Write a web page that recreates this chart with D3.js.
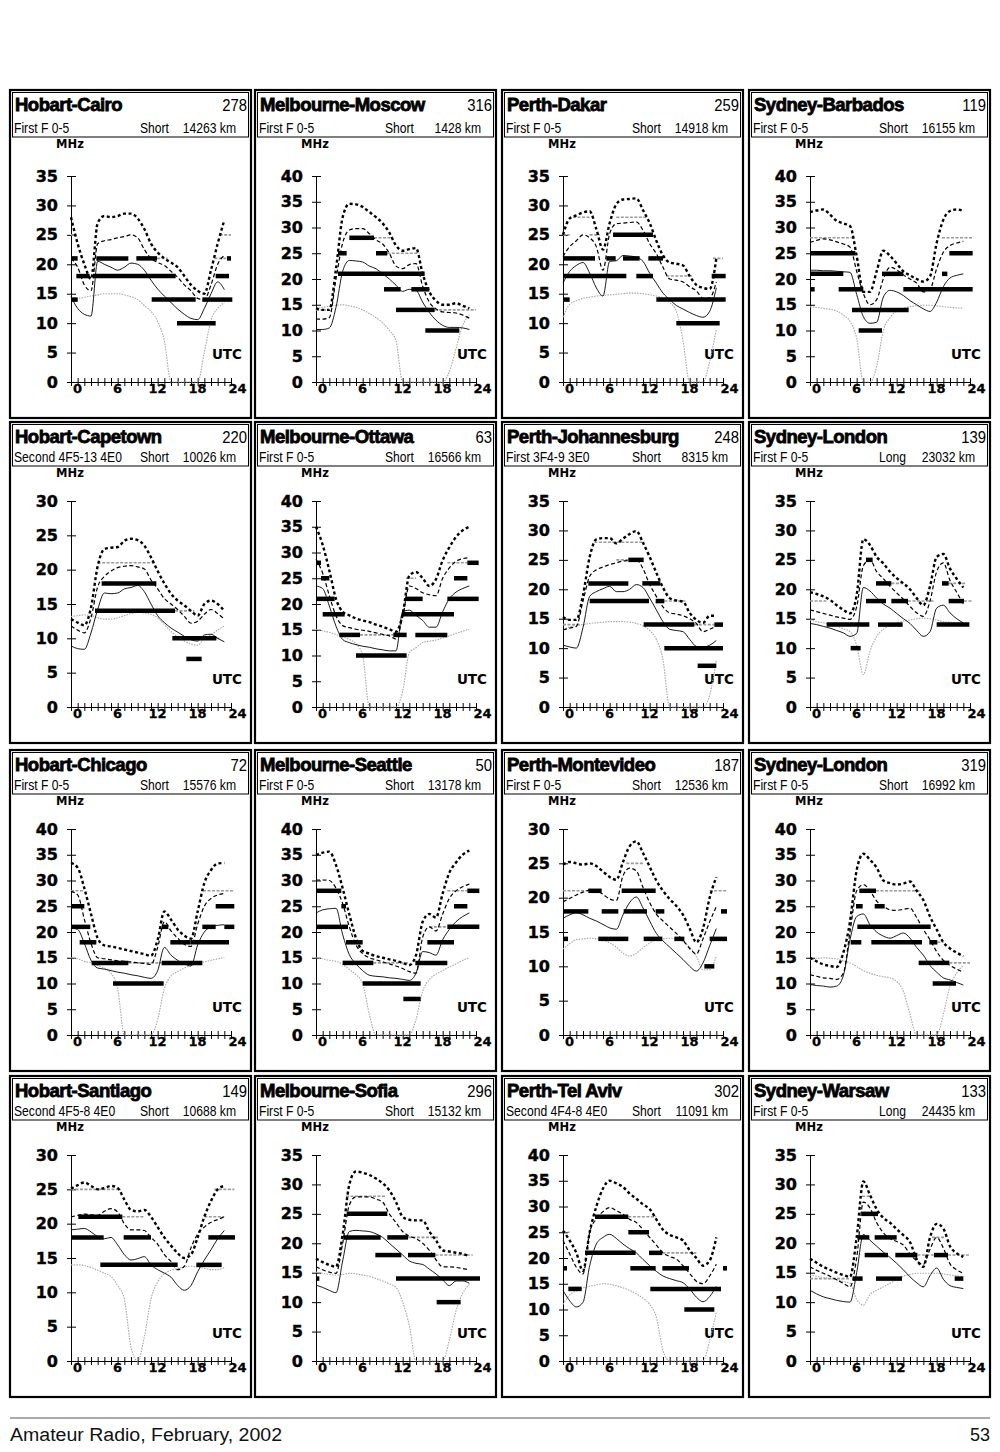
<!DOCTYPE html>
<html><head><meta charset="utf-8">
<script src="https://cdn.jsdelivr.net/npm/d3@7"></script>
<style>body{margin:0;background:#fff}svg{display:block}</style>
</head><body>
<svg id="c" width="1000" height="1452"></svg>
<script>
// ---------- DATA ----------
const titles = ["Hobart-Cairo","Melbourne-Moscow","Perth-Dakar","Sydney-Barbados",
  "Hobart-Capetown","Melbourne-Ottawa","Perth-Johannesburg","Sydney-London",
  "Hobart-Chicago","Melbourne-Seattle","Perth-Montevideo","Sydney-London",
  "Hobart-Santiago","Melbourne-Sofia","Perth-Tel Aviv","Sydney-Warsaw"];
const pathNumbers = ["278","316","259","119","220","63","248","139","72","50","187","319","149","296","302","133"];
const modes = ["First F 0-5","First F 0-5","First F 0-5","First F 0-5",
  "Second 4F5-13 4E0","First F 0-5","First 3F4-9 3E0","First F 0-5",
  "First F 0-5","First F 0-5","First F 0-5","First F 0-5",
  "Second 4F5-8 4E0","First F 0-5","Second 4F4-8 4E0","First F 0-5"];
const pathTypes = ["Short","Short","Short","Short","Short","Short","Short","Long",
  "Short","Short","Short","Short","Short","Short","Short","Long"];
const distances = ["14263 km","1428 km","14918 km","16155 km","10026 km","16566 km","8315 km","23032 km",
  "15576 km","13178 km","12536 km","16992 km","10688 km","15132 km","11091 km","24435 km"];
const yMax = [35,40,35,40,30,40,35,35,40,40,30,40,30,35,40,35];
const hours = [0,1,2,3,4,5,6,7,8,9,10,11,12,13,14,15,16,17,18,19,20,21,22,23];
const utcTicks = [0,1,2,3,4,5,6,7,8,9,10,11,12,13,14,15,16,17,18,19,20,21,22,23,24];
const utcLabels = [0,6,12,18,24];

// upper decile MUF (bold dotted)
const upperMUF = [
 [28,23.5,20,17.5,27,28.2,28,28.2,28.6,28.6,27.8,26,23.5,22,21,20.3,19.5,18,16.5,15.5,15,19,23.5,27.5],
 [14.3,14,14,22,32,34.6,34.5,34,33,32,30.8,29,26.5,25.5,25.8,26,21,17.5,15.8,15,15,15.3,14.8,14.3],
 [25,27.8,28.3,28.8,29,26,22.5,27,30.2,31,31.1,31.2,29.2,27,24,21.5,20.3,20.1,19.8,18,16.5,16,15.8,21],
 [33,33.3,33.5,32.5,31.3,30.8,30.3,24.5,17.5,17.5,21.5,25.5,24.5,23,21.5,20.7,20,19.5,20.5,27,31.5,33.2,33.5,33.2],
 [12.8,12.3,11.9,14.5,20.5,23,23.2,23.3,24.2,24.5,24.3,23.5,21.8,19.8,18,16.5,15.5,14.8,14,13.3,15,15.5,15,14],
 [35,31.5,26.5,21,18.5,17.8,17.2,16.8,16.5,16,15.6,15.1,14.6,18,25.5,26.2,25,23.5,24.8,28.5,31,33,34.3,35],
 [15.3,14.8,14.8,19,25.5,28.5,28.7,28.7,27.8,28.6,29.4,29.9,27.9,25.5,22.8,20.3,18.5,18.1,17.9,16,14.8,14.3,15.5,15.5],
 [19.5,19.2,18.8,18.2,17.3,16.5,15.9,19,28.5,27.5,25.5,24.4,23,21.9,21,20,18.5,17.3,20.5,25.5,26,23.5,21.8,20.3],
 [33.4,32.5,28.5,23.5,18.8,17.4,17.2,16.9,16.6,16.3,16,15.7,15.4,18.5,24,22.4,20.5,19.3,18.7,24,29.5,32,33.3,33.4],
 [35,35.4,35.6,33,28.5,23.4,18.8,16.3,15.8,15.3,15,14.7,14.4,14,13.6,15.5,22,23.5,22.8,27.5,31.5,33.5,35,35.8],
 [24.8,25.2,25,24.8,25,24.6,23.8,23,22.6,25.2,27.5,28.2,26.5,24.5,22.5,21,19.8,18.8,17.5,15.5,13.5,15.5,20,23],
 [15,14.3,13.7,13.4,13.2,16,22,32,35.2,34,32.5,30,29.5,29.2,29.4,29.8,28,26.2,23,20.5,18,16.8,16,15.3],
 [25.1,25.6,26,25.5,25,25.2,25.5,25.2,23.5,22,21.8,22,21,19.5,18,16.8,15.7,15,15.5,18,21,23.3,25,25.5],
 [17.4,16.8,16.3,16,21.5,30,32.2,32,31.6,31,30.2,29,27,24.5,24,23.9,23.9,22,20.5,18.8,18.6,18.4,18.2,17.8],
 [25.3,23.4,21,17.5,25,30,33.5,35,34.5,33.8,32.5,31.5,30.4,29.5,27.5,25.5,24.5,24,23.4,21.5,20,18.5,19.5,24],
 [17.4,16.7,16,15.5,15,14.6,14.3,21,30.5,28.2,25.8,24.3,23.5,22.4,21.4,20.2,17.3,16,21,23.3,22.5,19.5,18.3,17.7]
];
// dashed curve
const dashedMUF = [
 [21,19.5,16.5,15.5,23.5,24,24.2,24.5,24.7,25,24.5,22.5,21,20.3,19.8,18.8,17.8,16.5,15.5,14.2,14,16.5,20,21.5],
 [12.2,12.2,12.5,20,27,29.5,29.8,29.8,28.8,27.6,26.8,25,22.5,22,22.8,23,18.6,15.5,14.2,13.6,13.5,13.4,13,12.4],
 [21.3,23,24,25,24.5,23,19,25.2,26.9,27,27.1,27.2,25.8,23.5,21.8,19.5,17.5,17.3,17,16.2,15.5,14.2,14.3,17],
 [27.1,27.5,27.8,27.6,27.2,26.8,26.2,21.5,17.2,15,16,20,22.3,21.8,20.8,20,19.2,17.5,18,22,25.2,26.5,27,27.3],
 [11.8,11.2,10.8,13,17.5,19,19.8,20.3,20.5,20.6,20.4,20.1,18.5,17.2,15.8,15,14.2,13.2,12.2,12.5,13.5,14.2,13.6,12.8],
 [28.7,26,21.6,17.7,15.8,15.4,15.1,14.9,14.7,14.4,14.1,13.8,13.2,17.5,23.5,23,22.2,21.8,21.6,25,27,28.3,28.8,29],
 [13.1,13.4,13.7,18,22.2,23.3,23.8,24.2,24.5,24.8,24.9,25,23.5,20.8,18.8,17,16,15.8,15.5,15,14.2,12.8,13.2,13.8],
 [16.5,16.2,15.9,15.6,15.3,15.1,14.9,17,24,25,23,21.8,20.5,19.4,18.3,17.1,16,15.4,18,23,24.5,21.5,19.5,17.5],
 [27.9,27.2,22.5,17.8,15,14.8,14.6,14.4,14.3,14.2,14,13.9,13.7,17,22,20.2,18.8,17.6,17.2,21.5,25,26.5,27.2,27.5],
 [30.1,30.1,30,28.5,25.5,21,17.5,15.8,15,14.6,14.2,13.8,13.4,12.9,12.3,12,19,21,20.2,23.5,26.5,28,28.8,29.3],
 [19.4,19.9,20.4,20.8,21.1,21,20.5,19.8,19.6,23.2,24.3,23.9,21.5,19.3,17.6,16.6,15.7,14.8,13.8,12.6,11.8,14,16.5,18.7],
 [11.7,11.4,11.1,11,10.8,12,20,28,29.2,28,26,25,24.3,24.2,24.4,24.6,22.8,20.5,18.5,16.2,14.5,13.5,12.8,12.2],
 [21,21.2,21.4,21.3,21.2,21.8,22.2,21.7,20,19.1,19.1,19,18,17,15.5,14.5,13.3,13.8,16.5,18.5,19.5,20.2,20.6,21],
 [16,15.5,15.1,14.9,20,26.5,27.9,27.9,27.9,27.5,27,25,23.5,22,21.2,20.8,20,18.8,17.2,16,16,15.9,15.7,15.5],
 [23.4,20.8,18.2,16.9,25,27.6,29,29.8,29.2,28.5,27.5,26.9,25.5,24,22.5,21,20.3,19.8,18.5,17,15.5,15,16.5,18.8],
 [16,15.4,14.9,14.4,13.8,13.2,12.6,17.5,27,26,23.5,21.8,20.8,20.3,19.7,18.2,17,16.4,19,21,19.2,16.5,15.5,14.9]
];
// median MUF (thin solid)
const medianMUF = [
 [14.5,12.5,11.5,11.2,20.5,20,19.5,19,19.5,20.2,20,19,17.3,15.8,14.6,13.5,12.4,11.5,10.8,10.6,12.5,15,17,15.7],
 [10.2,10.2,10.5,14.5,21.5,23.6,23.5,23.3,22.5,22,21,20,18.8,17.6,18,17.8,15.5,13.5,12,11,10.6,10.6,10.5,10.2],
 [16.8,18.8,19.8,20.3,18.5,16,14.6,20.5,20.6,21.5,21.4,21.2,20.5,18.5,16.8,15.1,14,13,12.4,11.8,11.3,11,12,16],
 [21.7,21.7,21.6,21.6,21.5,21.4,21.3,17,12.7,11.4,11.6,16.5,17.8,17.5,16.8,15.8,15,14.2,13.7,15.5,18.5,20.2,20.7,21],
 [8.9,8.5,8.4,10.8,14.2,16.6,16.5,16.6,17.2,17.4,17.7,16.8,15,13.3,12.3,11.5,10.9,10.3,9.8,9.6,10.5,10.6,10,9.5],
 [23.5,23,19.6,15.7,13.1,12.5,12.1,11.8,11.6,11.3,11.1,10.9,10.9,18.5,18.8,17.8,16.8,15.5,15.5,18.5,21,22.3,23,23.5],
 [10.5,10.2,10,13.5,18.8,19.6,20.1,20.5,19.6,19.6,20,20.8,20.3,18.5,16.5,14.5,13.2,13,12.8,11.5,10.3,10.2,10.5,11.3],
 [14.2,14,13.7,13.4,13,12.6,12,12.5,20.3,19.7,18.5,17.5,16.8,15.9,15,14.2,13,12,12.8,16.8,17.3,16,15,14.3],
 [20.8,20.5,17.8,14.5,13,12.8,12.5,12.2,12,11.7,11.5,11.2,11,12.5,17,15.5,14.5,13.8,13.4,17.5,20,21,21.3,21.4],
 [23.7,24.3,24.5,24.6,19.5,15.6,13.8,12.5,11.6,11.4,11.3,11.1,11,10.8,10.6,12,16.2,16,15.5,18.5,20.5,22,23,23.7],
 [17,17.5,17.8,17.5,17,16.6,16.1,15.6,15.4,17.5,19.3,20.1,18.5,16.6,14.8,13.7,12.8,11.9,11,10,9.3,10.5,13,15.5],
 [9.8,9.6,9.5,9.3,9.5,11.5,18.5,23,23.5,21.4,20,19.2,18.8,19.3,19.8,18.8,17,15.5,13.5,12.2,11.1,10.7,10.2,9.7],
 [19.1,19.2,19.3,18.8,18.1,17.8,18,16.9,15.5,14.7,14.9,15.2,14,13.3,12.8,12.2,11,10.3,11,13,14.7,16.2,17.8,19],
 [12.9,12.5,12,11.6,17,22,22.2,22.1,22,21.6,21,20,19,18,17,16.6,16.4,15.6,14.8,13.8,12.8,13.6,13.6,13.2],
 [13.7,11.7,10.5,11.4,18.5,22.7,24,24.6,23.8,22.7,21.8,21,19.7,18.5,17.4,16.5,16,15.6,15.2,14,12.4,11.5,12.5,14.5],
 [12,11.4,10.9,10.6,10.3,10.1,10,15,21.5,20.5,19.5,18.5,17.6,16.6,15.5,14.3,13.3,12.6,14.5,15.8,13.9,12.8,12.5,12.3]
];
// lower curve (grey dotted)
const lowerCurve = [
 [14,14.2,14.4,14.6,14.8,15,15,15,14.8,14.5,14,13,12,10.3,7,0,0,0,0,0,5,10.5,12.5,13.5],
 [14.3,14.5,14.7,14.9,15,14.8,14.5,14,13.3,12.5,11.5,10,8,0,0,0,0,0,0,0,2,6.5,11,13],
 [11,13.2,13.8,14.2,14.4,14.6,14.7,14.8,14.9,15,15.1,15.1,15,14.8,14.6,14.3,13.5,12,7,0,0,0,3.5,9],
 [14.6,14.5,14.3,14.1,13.8,13,11.8,8.5,0,0,3,10,12.5,13.8,14.3,14.6,14.8,14.9,14.9,14.8,14.6,14.5,14.4,14.3],
 [13.2,13.3,13.4,13.3,13,12.8,12.8,13,13.3,13.6,13.8,13.7,13.5,13,12,11,10.2,9.6,9.2,9,10,10.5,11.2,11.8],
 [15.1,14.8,14.5,14.1,13.6,13.1,12.3,10,0,0,0,0,0,3,10.5,11.5,12.5,12.8,13,13.4,13.8,14.3,14.7,15.1],
 [13.1,13.6,13.9,14,14.2,14.3,14.4,14.5,14.5,14.5,14.4,14.2,13.8,13,11.5,8,0,0,0,0,0,0,2,8],
 [14.8,14.5,14.3,14,13.7,13.3,12.8,10.5,5.5,9.5,12,13.2,13.8,14.3,14.6,14.8,15,15.1,15,14.8,14.5,14.4,14.3,14.2],
 [15,14.8,14.3,14,13.5,13,12,9,0,0,0,0,0,3,9,11.5,12.3,13,13.5,13.8,14.2,14.5,14.8,15],
 [15,14.8,14.5,14.3,13.7,12.7,11.7,10,4,0,0,0,0,0,0,3,8.5,10.8,11.8,12.5,13.2,13.8,14.5,15],
 [12.5,13.3,13.9,14,14.1,14,13.8,13.4,12.8,11.9,11.5,11.9,12.7,13.4,13.9,14,14.1,14,13.6,12.8,11.5,9.5,9.5,11.5],
 [14.6,14.8,15,14.9,14.8,14.4,14,13.3,12.5,12,11.6,11.3,11.1,10.4,8.5,4,0,0,0,0,4,9.5,12,13.5],
 [14,14,13.9,13.6,13.2,12.8,12.3,11,9,2,0,3.5,9,11.5,12.7,13.2,13.5,13.7,13.8,13.7,13.5,13.3,13.3,13.6],
 [15.1,14.9,14.7,14.6,14.7,14.9,14.8,14.6,14.4,14,13.6,13.1,12.5,10,6,0,0,0,0,0,3.5,8.5,11.5,13],
 [11,12.8,13.6,14.2,14.5,14.8,15,14.9,14.6,14.2,13.7,13,12.2,11,8.5,2,0,0,0,0,0,0,4,9.5],
 [14.6,14.4,14.2,14,13.8,13.5,13.2,10.5,9.5,11.3,12,12.6,13.2,13.8,14.4,14.7,14.9,14.9,14.9,14.9,14.8,14.6,14.5,14.3]
];
// strong band openings: [MHz, from UTC, to UTC]
const bandBars = [
 [[21,0,1],[21,3.8,8.6],[21,9.8,12.9],[21,23.4,24],[18,0.8,2.8],[18,3.3,15.7],[18,21.7,23.7],[14,0,1],[14,12.1,18.7],[14,19.7,24.2],[10,15.9,21.7]],
 [[28,5,8.7],[25,3.3,4.6],[25,9,10.7],[21,3.3,16.3],[18,10.2,12.7],[18,14.3,17],[14,12,15],[14,15,17.8],[10,16.4,21.5]],
 [[14,0,1],[18,0,9.5],[18,11,13.5],[18,22.3,24.4],[21,0,4.8],[21,6.5,7.9],[21,9,11.5],[21,12.8,15],[25,7.5,13.5],[14,14,24.4],[10,17,23.5]],
 [[25,0,6.8],[21,0,5],[18,0,0.7],[18,4.3,8],[14,6.3,14.8],[10,7.3,10.8],[21,10.8,14],[18,14,24.4],[21,19.8,20.6],[25,20.9,24.4]],
 [[18,4.6,12.8],[14,3.6,15.6],[10,15.2,21.8],[7,17.3,19.6]],
 [[28,0,0.75],[25,0.75,2],[21,0,2.8],[18,1,4.3],[14,3.5,6.6],[10,6,13.6],[14,11.6,13.6],[21,13.4,16],[18,12.9,20.7],[14,14.9,19.7],[21,19.7,24.4],[25,20.7,22.7],[28,22.7,24.4]],
 [[21,3.8,9.8],[21,11.9,14.6],[25,9.8,12.1],[18,4,12.9],[18,13.9,15.2],[14,12.1,19.7],[14,22.7,24],[10,15.2,24],[7,20.2,23]],
 [[14,2.5,8.9],[14,10.2,13.9],[14,19,23.9],[10,6.1,7.6],[18,8.4,11.4],[18,12.2,14.7],[18,20.8,23.1],[21,9.9,12.2],[21,19.8,20.8],[25,8.4,9.4]],
 [[25,0,2],[21,0,2.9],[18,1.3,3.8],[14,3.1,8.6],[14,13.6,19.7],[10,6.3,13.9],[21,13.6,14.6],[18,14.9,17.9],[18,17.9,23.7],[21,19.7,21.7],[21,23,24.5],[25,21.7,24.5]],
 [[28,0,3.8],[25,3.8,4.5],[21,0,4.8],[18,4.5,7],[14,4,8.6],[10,7,15.7],[7,13.1,15.7],[14,14.9,19.7],[18,16.7,20.7],[21,19.7,24.5],[25,20.7,22.7],[28,22.7,24.5]],
 [[21,3.8,5.8],[21,8.8,13.9],[18,0,3.8],[18,5.8,8.3],[18,9.1,12.6],[18,13.9,15.2],[18,23.7,24.6],[14,0,0.75],[14,5.3,9.8],[14,12.1,14.9],[14,16.7,18.2],[14,22,24.6],[10,21.2,22.7]],
 [[28,7.4,9.9],[25,6.9,7.9],[25,9.7,11.2],[21,7.1,18.1],[18,6.1,7.7],[18,9.2,16.8],[18,17.9,19.1],[14,16.3,20.9],[10,18.4,21.9]],
 [[21,1.1,7.7],[18,0,4.9],[18,7.9,12],[18,20.6,24.6],[14,4.4,16],[14,18.8,22.6]],
 [[25,4.6,10.7],[21,4.1,9.7],[21,10.7,13.8],[18,8.9,12.8],[18,13.8,17.9],[14,12,24.6],[10,18.1,21.7],[14,0,0.5]],
 [[14,0.8,2.8],[18,0,0.6],[21,3.3,10.9],[21,12.9,14.9],[28,4.8,9.8],[25,9.8,12.9],[18,10.1,13.9],[18,14.9,18.9],[18,24,24.6],[14,13.1,23.7],[10,18.2,22.7]],
 [[25,7.7,10.2],[21,7.1,8.9],[21,9.7,13],[18,8.2,11.7],[18,12.8,16.1],[18,18.6,20.7],[14,6.4,7.9],[14,9.9,13.8],[14,21.7,23]]
];
// weak band openings (thin grey)
const weakBars = [
 [[25,0,0.8],[25,22.3,24],[21,12.9,14.5],[21,21.5,23.4]],
 [[28,8.7,11.5],[25,10.7,15.5],[14,17.8,24],[14,0,1.5]],
 [[28,1.5,4],[28,8,12.5],[25,0,1],[25,4,5.5],[18,15.5,19.5],[21,22.5,24]],
 [[28,0,6.6],[28,19.8,24.4]],
 [[21,4,12.6],[14,15.6,18.5],[10,21.8,22.5]],
 [[14,6.6,11.6],[28,19.7,22.7],[25,13.5,15]],
 [[28,4.7,12.2],[25,8,9.8],[18,15.2,18.5],[14,0,2.5],[14,19.7,22.7]],
 [[18,0,2.5],[21,12.2,14],[21,20.8,23.5],[18,23.1,24.4],[18,14.7,18.6]],
 [[28,0,2],[28,19.8,24.5],[14,8.6,13.6]],
 [[14,8.6,14],[21,17,19.7],[28,19.7,22.7]],
 [[21,0,3.8],[21,22,24.5],[25,9.5,12]],
 [[28,9.9,16.5],[14,20.9,24],[18,19.1,20]],
 [[25,0,7.5],[25,21.5,24.5],[21,7.7,11],[21,20,23]],
 [[28,4.5,10.5],[21,13.8,18.5],[18,17.9,23.5]],
 [[28,9.8,14],[21,14.9,20],[25,0,1]],
 [[18,16.1,18.6],[18,20.7,24],[14,0,6],[21,18.3,20.3],[28,7.8,9]]
];
const footerLeft = "Amateur Radio, February, 2002";
const footerRight = "53";

// ---------- LAYOUT ----------
const colLeft = [10, 255, 502, 749];
const rowTop = [90, 422, 750, 1076];
const rowH = [328, 321, 321, 321];
const PW = 241;
const BOLD = "'DejaVu Sans', Verdana, sans-serif";
const SANS = "'Liberation Sans', Arial, sans-serif";

const svg = d3.select("#c");
svg.append("rect").attr("width",1000).attr("height",1452).attr("fill","#fff");

function narrowText(g, x, y, txt, anchor) {
  g.append("text").attr("transform",`translate(${x},${y}) scale(0.88,1)`)
    .attr("text-anchor",anchor).text(txt)
    .attr("font-family",SANS).attr("font-size",13.8).attr("fill","#000");
}

titles.forEach((title, i) => {
  const col = i % 4, row = Math.floor(i / 4);
  const L = colLeft[col], T = rowTop[row], H = rowH[row];
  const sep = T + (row === 0 ? 47 : 44);
  const ax = L + 61, zero = T + H - 36, topY = zero - 206;
  const g = svg.append("g");

  g.append("rect").attr("x",L).attr("y",T).attr("width",PW).attr("height",H)
    .attr("fill","none").attr("stroke","#000").attr("stroke-width",2.2);
  g.append("rect").attr("x",L+2.5).attr("y",T+2.5).attr("width",PW-5).attr("height",sep-T-2.5)
    .attr("fill","none").attr("stroke","#000").attr("stroke-width",1);

  g.append("text").attr("x",L+5).attr("y",T+21).text(title)
    .attr("font-family",SANS).attr("font-weight","bold").attr("font-size",18.5)
    .attr("letter-spacing",-0.5).attr("stroke","#000").attr("stroke-width",0.8).attr("fill","#000");
  g.append("text").attr("transform",`translate(${L+PW-4},${T+21}) scale(0.9,1)`).attr("text-anchor","end").text(pathNumbers[i])
    .attr("font-family",SANS).attr("font-size",16.5).attr("fill","#000");
  narrowText(g, L+4, sep-4, modes[i], "start");
  narrowText(g, L+130, sep-4, pathTypes[i], "start");
  narrowText(g, L+226, sep-4, distances[i], "end");

  g.append("text").attr("x",ax-1).attr("y",sep+11).attr("text-anchor","middle").text("MHz")
    .attr("font-family",BOLD).attr("font-weight","bold").attr("font-size",11.5).attr("fill","#000");

  const x = d3.scaleLinear().domain([0,24]).range([ax, ax+160]);
  const y = d3.scaleLinear().domain([0,yMax[i]]).range([zero, topY]);

  // y axis
  const ya = g.append("g").attr("transform",`translate(${ax},0)`)
    .call(d3.axisLeft(y).tickValues(d3.range(0, yMax[i]+1, 5)).tickSizeInner(4).tickSizeOuter(0).tickPadding(9));
  ya.select(".domain").attr("stroke","#000").attr("stroke-width",1);
  ya.selectAll(".tick line").attr("x1",5).attr("stroke-width",1);
  ya.selectAll(".tick text").attr("font-family",BOLD).attr("font-weight","bold").attr("font-size",16)
    .attr("stroke","#000").attr("stroke-width",0.4).attr("fill","#000");

  // x axis
  const xa = g.append("g").attr("transform",`translate(0,${zero})`)
    .call(d3.axisBottom(x).tickValues(utcTicks).tickSizeInner(4).tickSizeOuter(0).tickPadding(-2.5)
      .tickFormat(d => utcLabels.includes(d) ? d : ""));
  xa.select(".domain").attr("stroke","#000").attr("stroke-width",1);
  xa.selectAll(".tick line").attr("y1",-4).attr("stroke-width",1);
  xa.selectAll(".tick text").attr("dx",6).attr("font-family",BOLD).attr("font-weight","bold").attr("font-size",13)
    .attr("stroke","#000").attr("stroke-width",0.3).attr("fill","#000");

  g.append("text").attr("x",L+PW-9).attr("y",zero-23).attr("text-anchor","end").text("UTC")
    .attr("font-family",BOLD).attr("font-weight","bold").attr("font-size",13.5).attr("fill","#000");

  const line = d3.line().x((d,k) => x(hours[k])).y(d => y(d)).curve(d3.curveMonotoneX);

  g.append("path").attr("d",line(lowerCurve[i])).attr("fill","none")
    .attr("stroke","#a5a5a5").attr("stroke-width",1.1).attr("stroke-dasharray","1.5,1.2");

  g.selectAll(".wb").data(weakBars[i]).join("line")
    .attr("x1",d=>x(d[1])).attr("x2",d=>x(d[2])).attr("y1",d=>y(d[0])).attr("y2",d=>y(d[0]))
    .attr("stroke","#9a9a9a").attr("stroke-width",1.6).attr("stroke-dasharray","3,1.5");

  g.append("path").attr("d",line(medianMUF[i])).attr("fill","none")
    .attr("stroke","#000").attr("stroke-width",0.9);
  g.append("path").attr("d",line(dashedMUF[i])).attr("fill","none")
    .attr("stroke","#000").attr("stroke-width",1.2).attr("stroke-dasharray","4,2.5");
  g.append("path").attr("d",line(upperMUF[i])).attr("fill","none")
    .attr("stroke","#000").attr("stroke-width",2.4).attr("stroke-dasharray","3,2.6");

  g.selectAll(".bb").data(bandBars[i]).join("line")
    .attr("x1",d=>x(d[1])).attr("x2",d=>x(d[2])).attr("y1",d=>y(d[0])).attr("y2",d=>y(d[0]))
    .attr("stroke","#000").attr("stroke-width",4.5);
});

// footer
svg.append("line").attr("x1",10).attr("x2",990).attr("y1",1418).attr("y2",1418)
  .attr("stroke","#555").attr("stroke-width",1);
svg.append("text").attr("x",10).attr("y",1441).text(footerLeft)
  .attr("font-family",SANS).attr("font-size",18).attr("textLength",272).attr("lengthAdjust","spacingAndGlyphs").attr("fill","#111");
svg.append("text").attr("x",990).attr("y",1441).attr("text-anchor","end").text(footerRight)
  .attr("font-family",SANS).attr("font-size",18).attr("fill","#111");
</script>
</body></html>
